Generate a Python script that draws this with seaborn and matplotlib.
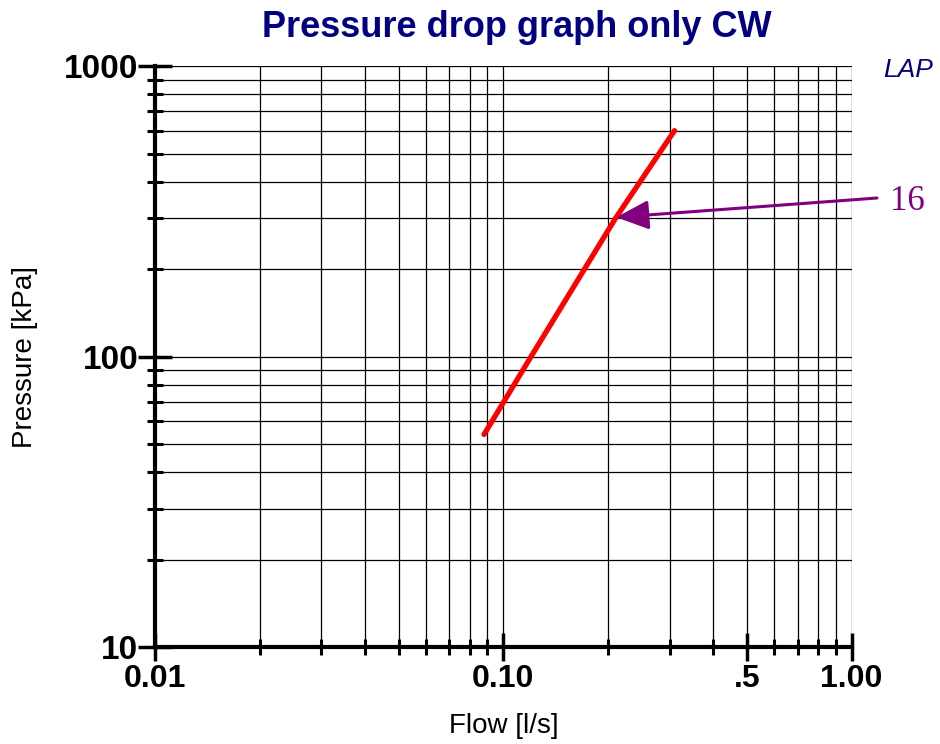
#!/usr/bin/env python

import matplotlib
matplotlib.use("Agg")
import matplotlib.pyplot as plt
import pandas as pd
import seaborn as sns
from matplotlib.ticker import FixedLocator, FixedFormatter, NullFormatter

# data
flow = [0.088, 0.12, 0.21, 0.31]
pressure = [54, 100, 300, 600]
curve_name = "16"
label_point = (0.211, 302)

x_ticks = [0.01, 0.1, 0.5, 1.0]
x_labels = ["0.01", "0.10", ".5", "1.00"]
y_ticks = [10, 100, 1000]
y_labels = ["10", "100", "1000"]

navy = "#000080"
purple = "#800080"

sns.set_style("white")
plt.rcParams["font.family"] = ["Liberation Sans", "DejaVu Sans"]
plt.rcParams.update({"text.color": "black", "axes.labelcolor": "black",
                     "xtick.color": "black", "ytick.color": "black"})

fig = plt.figure(figsize=(9.4, 7.44), dpi=100)
ax = fig.add_axes([0.165, 0.130, 0.741, 0.781])

df = pd.DataFrame({"flow": flow, "pressure": pressure})
sns.lineplot(data=df, x="flow", y="pressure", color="red", linewidth=3.8,
             solid_capstyle="round", ax=ax)

ax.set_xscale("log")
ax.set_yscale("log")
ax.set_xlim(0.01, 1.0)
ax.set_ylim(10, 1000)

# log grid lines on every decade step
x_minor = [m * d for d in (0.01, 0.1) for m in range(2, 10)]
y_minor = [m * d for d in (10, 100) for m in range(2, 10)]
ax.xaxis.set_major_locator(FixedLocator(x_ticks))
ax.xaxis.set_major_formatter(FixedFormatter(x_labels))
ax.xaxis.set_minor_locator(FixedLocator(x_minor))
ax.xaxis.set_minor_formatter(NullFormatter())
ax.yaxis.set_major_locator(FixedLocator(y_ticks))
ax.yaxis.set_major_formatter(FixedFormatter(y_labels))
ax.yaxis.set_minor_locator(FixedLocator(y_minor))
ax.yaxis.set_minor_formatter(NullFormatter())

ax.grid(True, which="both", color="black", linewidth=0.9)
ax.set_axisbelow(True)

for side in ("top", "right"):
    ax.spines[side].set_visible(False)
for side in ("left", "bottom"):
    ax.spines[side].set_linewidth(3)
    ax.spines[side].set_color("black")

ax.tick_params(which="both", bottom=True, left=True, top=False, right=False)
ax.tick_params(which="major", direction="inout", length=20, width=2.5,
               color="black", pad=2)
ax.tick_params(which="minor", direction="inout", length=11, width=2.2,
               color="black")
ax.tick_params(axis="y", which="major", length=24, pad=0)

for lab in ax.get_xticklabels():
    lab.set_fontsize(23)
    lab.set_fontweight("bold")
for lab in ax.get_yticklabels():
    lab.set_fontsize(24)
    lab.set_fontweight("bold")

ax.set_xlabel("Flow [l/s]", fontsize=20, labelpad=14)
ax.set_ylabel("Pressure [kPa]", fontsize=20, labelpad=19)

fig.suptitle("Pressure drop graph only CW", x=0.55, y=0.987,
             fontsize=26, fontweight="bold", color=navy)
fig.text(908 / 940, 1 - 70 / 744, "LAP", ha="center", va="center",
         fontsize=19, style="italic", color=navy)

# curve label with its arrow
fig.text(907 / 940, 1 - 202 / 744, curve_name, ha="center", va="center",
         fontsize=25, color=purple, family=["Liberation Serif", "DejaVu Serif"])
ax.annotate("", xy=label_point, xytext=(877, 744 - 198),
            textcoords="figure pixels", annotation_clip=False,
            arrowprops=dict(arrowstyle="-|>,head_length=1.0,head_width=0.45",
                            mutation_scale=20, color=purple, linewidth=2.2,
                            shrinkA=0, shrinkB=0))

fig.savefig("out.png", dpi=100)
